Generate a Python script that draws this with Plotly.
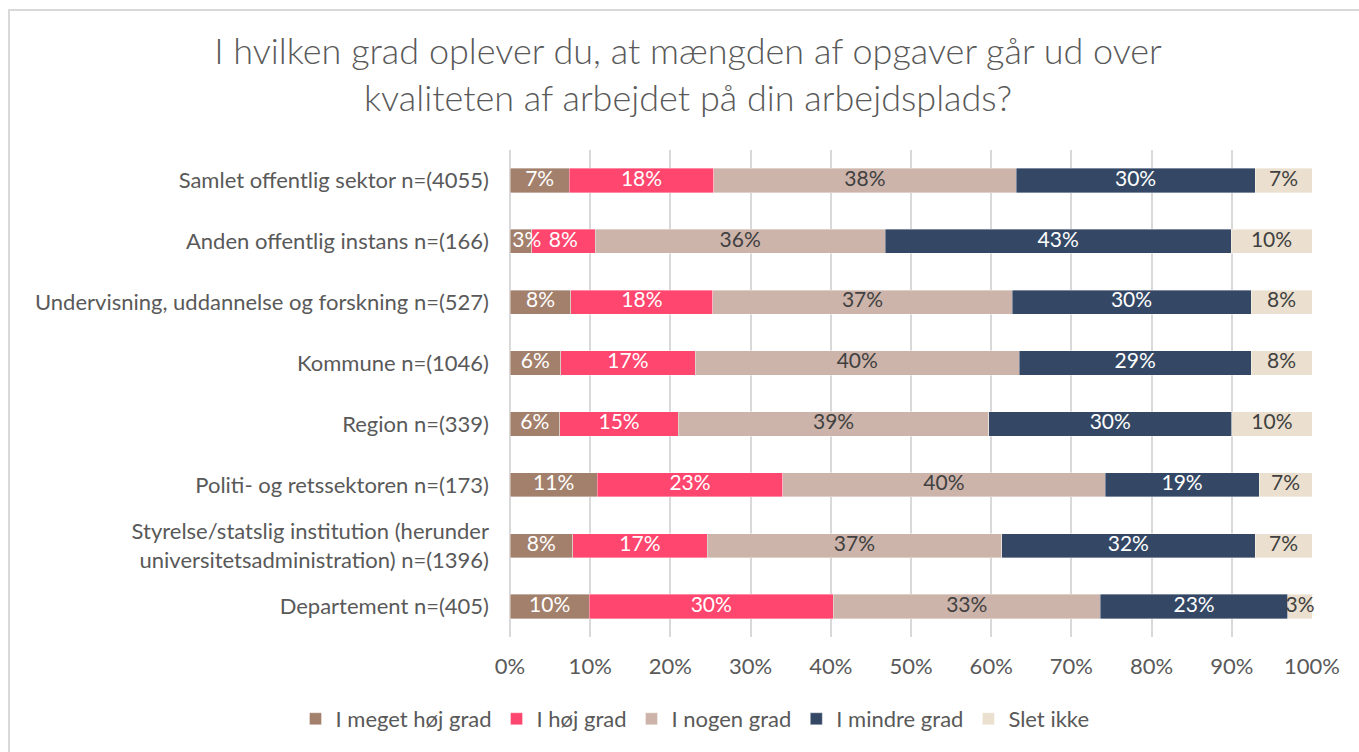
import plotly.graph_objects as go

categories = [
    "Samlet offentlig sektor n=(4055)",
    "Anden offentlig instans n=(166)",
    "Undervisning, uddannelse og forskning n=(527)",
    "Kommune n=(1046)",
    "Region n=(339)",
    "Politi- og retssektoren n=(173)",
    "Styrelse/statslig institution (herunder<br>universitetsadministration) n=(1396)",
    "Departement n=(405)",
]
series_names = ["I meget høj grad", "I høj grad", "I nogen grad", "I mindre grad", "Slet ikke"]
meget_hoej = [7.4, 2.7, 7.6, 6.3, 6.2, 10.9, 7.8, 9.9]
hoej = [18.0, 7.9, 17.7, 16.8, 14.8, 23.1, 16.8, 30.4]
nogen = [37.7, 36.2, 37.3, 40.4, 38.7, 40.2, 36.7, 33.3]
mindre = [29.8, 43.1, 29.8, 28.9, 30.3, 19.2, 31.6, 23.4]
slet_ikke = [7.1, 10.1, 7.6, 7.6, 10.0, 6.6, 7.1, 3.0]

values = [meget_hoej, hoej, nogen, mindre, slet_ikke]
colors = ["#A3806C", "#FF466E", "#CDB4AB", "#344866", "#EBE0CF"]
text_colors = ["white", "white", "#404040", "white", "#404040"]

W, H = 1359, 752
L, R, T, B = 510, 47, 150, 115
PW, PH = W - L - R, H - T - B

fig = go.Figure()
for name, vals, col in zip(series_names, values, colors):
    fig.add_trace(go.Bar(
        y=categories, x=vals, name=name, orientation="h",
        marker=dict(color=col, line=dict(color="rgba(255,255,255,0.6)", width=0.6)),
        hoverinfo="skip",
    ))

# value labels drawn above all bars, at segment centres (kept inside the plot area)
start = [0.0] * len(categories)
for vals, tcol in zip(values, text_colors):
    mids = [min(max(s + v / 2, 2.1), 98.6) for s, v in zip(start, vals)]
    fig.add_trace(go.Scatter(
        x=mids, y=categories, mode="text",
        text=[f"{v:.0f}%" for v in vals],
        textposition="middle center",
        textfont=dict(color=tcol, size=21, family="Lato"),
        showlegend=False, hoverinfo="skip", cliponaxis=False,
    ))
    start = [s + v for s, v in zip(start, vals)]

fig.update_layout(
    barmode="stack", bargap=0.6,
    width=W, height=H,
    paper_bgcolor="white", plot_bgcolor="white",
    margin=dict(l=L, r=R, t=T, b=B),
    font=dict(family="Lato", color="#595959", size=22),
    title=dict(
        text="I hvilken grad oplever du, at mængden af opgaver går ud over<br>kvaliteten af arbejdet på din arbejdsplads?",
        x=688 / W, xanchor="center", y=1 - 64 / H, yanchor="top",
        font=dict(family="Lato", size=36, color="#595959", weight=300),
    ),
    xaxis=dict(
        range=[0, 100], dtick=10, ticksuffix="%",
        showgrid=True, gridcolor="#D9D9D9", gridwidth=1.5,
        zeroline=True, zerolinecolor="#D9D9D9", zerolinewidth=1.5,
        tickfont=dict(size=22, color="#595959"), ticks="", ticklabelstandoff=14,
        automargin=False,
    ),
    yaxis=dict(
        autorange="reversed", showgrid=False, ticks="",
        tickfont=dict(size=22, color="#595959"), ticklabelstandoff=20,
        automargin=False,
    ),
    legend=dict(
        orientation="h", x=(695 - L) / PW, xanchor="center",
        y=-(719 - (T + PH)) / PH, yanchor="middle",
        font=dict(size=22, color="#595959"), traceorder="normal",
        itemwidth=30,
    ),
    shapes=[dict(
        type="rect", xref="paper", yref="paper",
        x0=(9 - L) / PW, x1=(W + 20 - L) / PW,
        y0=-(B + 20) / PH, y1=1 + (T - 10) / PH,
        line=dict(color="#D9D9D9", width=2), fillcolor="rgba(0,0,0,0)", layer="below",
    )],
)

fig.write_html("out.html", config={"displayModeBar": False},
               post_script="document.body.style.margin='0';")
